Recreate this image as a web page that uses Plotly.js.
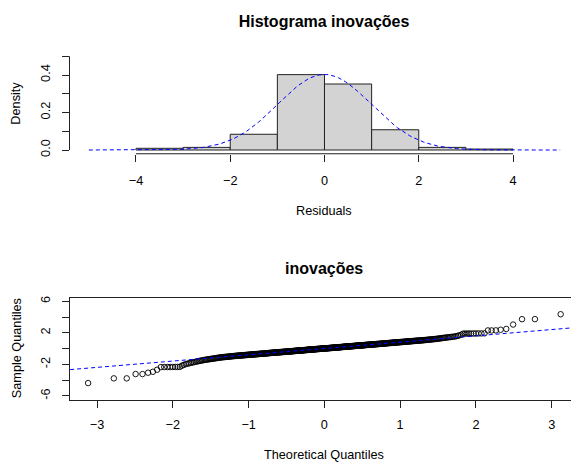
<!DOCTYPE html>
<html>
<head>
<meta charset="utf-8">
<script src="https://cdn.plot.ly/plotly-3.0.1.min.js"></script>
<style>html,body{margin:0;padding:0;background:#fff;}#chart{width:571px;height:462px;}</style>
</head>
<body>
<div id="chart"></div>
<script>
// ---------- Histogram data (top panel) ----------
const histBreaks = [-4, -3, -2, -1, 0, 1, 2, 3, 4];
const histDensity = [0.009, 0.014, 0.084, 0.402, 0.352, 0.108, 0.014, 0.005];
// Normal density overlay parameters
const curveMean = 0;
const curveSd = 0.99;
const curveFrom = -5, curveTo = 5;
const histXTicks = [-4, -2, 0, 2, 4];
const histYTicks = [0, 0.1, 0.2, 0.3, 0.4, 0.5];
const histYTickText = ["0.0", "", "0.2", "", "0.4", ""];

// ---------- QQ plot data (bottom panel): sample quantiles (sorted residuals) ----------
const qqSample = [
-4.37,-3.77,-3.77,-3.22,-3.22,-3.05,-2.93,-2.67,-2.34,-2.33,
-2.33,-2.33,-2.32,-2.32,-2.31,-2.31,-2.16,-2.05,-1.96,-1.90,
-1.85,-1.79,-1.75,-1.71,-1.66,-1.62,-1.58,-1.55,-1.51,-1.48,
-1.45,-1.42,-1.40,-1.37,-1.35,-1.33,-1.31,-1.29,-1.27,-1.25,
-1.23,-1.21,-1.19,-1.17,-1.15,-1.14,-1.12,-1.11,-1.09,-1.08,
-1.07,-1.06,-1.05,-1.04,-1.03,-1.02,-1.01,-1.00,-0.99,-0.97,
-0.96,-0.95,-0.95,-0.94,-0.93,-0.92,-0.91,-0.91,-0.90,-0.89,
-0.88,-0.88,-0.87,-0.86,-0.86,-0.85,-0.84,-0.84,-0.83,-0.82,
-0.82,-0.81,-0.80,-0.80,-0.79,-0.79,-0.78,-0.77,-0.77,-0.76,
-0.76,-0.75,-0.75,-0.74,-0.73,-0.73,-0.72,-0.72,-0.71,-0.70,
-0.70,-0.69,-0.69,-0.68,-0.68,-0.67,-0.67,-0.66,-0.66,-0.65,
-0.65,-0.64,-0.64,-0.63,-0.63,-0.62,-0.62,-0.61,-0.61,-0.60,
-0.59,-0.59,-0.58,-0.58,-0.57,-0.57,-0.56,-0.56,-0.55,-0.55,
-0.54,-0.54,-0.53,-0.53,-0.53,-0.52,-0.52,-0.51,-0.51,-0.50,
-0.50,-0.49,-0.49,-0.48,-0.48,-0.47,-0.47,-0.47,-0.46,-0.46,
-0.45,-0.45,-0.44,-0.44,-0.44,-0.43,-0.43,-0.42,-0.42,-0.42,
-0.41,-0.41,-0.40,-0.40,-0.40,-0.39,-0.39,-0.38,-0.38,-0.37,
-0.37,-0.37,-0.36,-0.36,-0.35,-0.35,-0.35,-0.34,-0.34,-0.33,
-0.33,-0.33,-0.32,-0.32,-0.31,-0.31,-0.31,-0.30,-0.30,-0.29,
-0.29,-0.28,-0.28,-0.28,-0.27,-0.27,-0.26,-0.26,-0.26,-0.25,
-0.25,-0.24,-0.24,-0.24,-0.23,-0.23,-0.22,-0.22,-0.22,-0.21,
-0.21,-0.21,-0.20,-0.20,-0.19,-0.19,-0.19,-0.18,-0.18,-0.18,
-0.17,-0.17,-0.16,-0.16,-0.16,-0.15,-0.15,-0.14,-0.14,-0.14,
-0.13,-0.13,-0.12,-0.12,-0.12,-0.11,-0.11,-0.11,-0.10,-0.10,
-0.10,-0.09,-0.09,-0.08,-0.08,-0.08,-0.07,-0.07,-0.06,-0.06,
-0.06,-0.05,-0.05,-0.05,-0.04,-0.04,-0.03,-0.03,-0.03,-0.03,
-0.02,-0.02,-0.01,-0.01,-0.01,0.00,0.00,0.01,0.01,0.01,
0.02,0.02,0.02,0.03,0.03,
0.03,0.03,0.04,0.04,0.04,0.05,0.05,0.05,0.06,0.06,
0.07,0.07,0.07,0.08,0.08,0.09,0.09,0.09,0.09,0.10,
0.10,0.11,0.11,0.11,0.12,0.12,0.12,0.13,0.13,0.14,
0.14,0.14,0.15,0.15,0.16,0.16,0.16,0.17,0.17,0.17,
0.18,0.18,0.18,0.19,0.19,0.20,0.20,0.20,0.21,0.21,
0.22,0.22,0.22,0.23,0.23,0.24,0.24,0.24,0.25,0.25,
0.25,0.26,0.26,0.27,0.27,0.27,0.28,0.28,0.28,0.29,
0.29,0.30,0.30,0.30,0.31,0.31,0.32,0.32,0.32,0.33,
0.33,0.34,0.34,0.34,0.35,0.35,0.36,0.36,0.37,0.37,
0.37,0.38,0.38,0.39,0.39,0.39,0.40,0.40,0.41,0.41,
0.41,0.42,0.42,0.43,0.43,0.43,0.44,0.44,0.45,0.45,
0.46,0.46,0.46,0.47,0.47,0.48,0.48,0.48,0.49,0.49,
0.50,0.50,0.50,0.51,0.51,0.52,0.52,0.53,0.53,0.53,
0.54,0.54,0.55,0.55,0.56,0.56,0.57,0.57,0.58,0.58,
0.59,0.59,0.59,0.60,0.60,0.61,0.61,0.62,0.62,0.63,
0.63,0.64,0.64,0.65,0.65,0.66,0.67,0.67,0.68,0.68,
0.69,0.69,0.70,0.70,0.71,0.71,0.72,0.72,0.73,0.73,
0.74,0.74,0.75,0.75,0.76,0.76,0.77,0.78,0.78,0.79,
0.79,0.80,0.81,0.81,0.82,0.82,0.83,0.83,0.84,0.85,
0.85,0.86,0.86,0.87,0.88,0.88,0.89,0.90,0.90,0.91,
0.92,0.92,0.93,0.94,0.94,0.95,0.96,0.97,0.97,0.98,
0.99,1.00,1.01,1.01,1.02,1.03,1.03,1.04,1.05,1.06,
1.07,1.07,1.08,1.09,1.10,1.11,1.12,1.13,1.14,1.16,
1.17,1.18,1.19,1.21,1.22,1.23,1.25,1.26,1.28,1.30,
1.32,1.34,1.36,1.38,1.40,1.42,1.44,1.46,1.48,1.50,
1.52,1.55,1.59,1.64,1.70,1.78,1.91,1.92,1.92,1.93,
1.93,1.93,1.94,1.94,1.94,1.95,2.32,2.32,2.33,2.41,
2.51,3.07,3.75,3.76,4.38
];
const qqXTicks = [-3, -2, -1, 0, 1, 2, 3];
const qqYTicks = [-6, -4, -2, 0, 2, 4, 6];
const qqYTickText = ["-6", "", "-2", "", "2", "", "6"];

// ---------- statistics helpers (what qqnorm / qqline / curve(dnorm) compute) ----------
function qnorm(p) {
  const a=[-3.969683028665376e+01,2.209460984245205e+02,-2.759285104469687e+02,1.383577518672690e+02,-3.066479806614716e+01,2.506628277459239e+00];
  const b=[-5.447609879822406e+01,1.615858368580409e+02,-1.556989798598866e+02,6.680131188771972e+01,-1.328068155288572e+01];
  const c=[-7.784894002430293e-03,-3.223964580411365e-01,-2.400758277161838e+00,-2.549732539343734e+00,4.374664141464968e+00,2.938163982698783e+00];
  const d=[7.784695709041462e-03,3.224671290700398e-01,2.445134137142996e+00,3.754408661907416e+00];
  const pl=0.02425, ph=1-pl; let q, r;
  if (p < pl) { q=Math.sqrt(-2*Math.log(p)); return (((((c[0]*q+c[1])*q+c[2])*q+c[3])*q+c[4])*q+c[5])/((((d[0]*q+d[1])*q+d[2])*q+d[3])*q+1); }
  if (p > ph) { q=Math.sqrt(-2*Math.log(1-p)); return -(((((c[0]*q+c[1])*q+c[2])*q+c[3])*q+c[4])*q+c[5])/((((d[0]*q+d[1])*q+d[2])*q+d[3])*q+1); }
  q=p-0.5; r=q*q;
  return (((((a[0]*r+a[1])*r+a[2])*r+a[3])*r+a[4])*r+a[5])*q/(((((b[0]*r+b[1])*r+b[2])*r+b[3])*r+b[4])*r+1);
}
function quantile7(sorted, prob) {
  const h = (sorted.length - 1) * prob, lo = Math.floor(h);
  return sorted[lo] + (h - lo) * ((sorted[lo + 1] ?? sorted[lo]) - sorted[lo]);
}

const sortedSample = qqSample.slice().sort((x, y) => x - y);
const nS = sortedSample.length;
const theo = sortedSample.map((_, i) => qnorm((i + 1 - 0.5) / nS));
const q1 = quantile7(sortedSample, 0.25), q3 = quantile7(sortedSample, 0.75);
const slope = (q3 - q1) / (qnorm(0.75) - qnorm(0.25));
const intercept = q1 - slope * qnorm(0.25);
const lineX = [-4, 4];
const lineY = lineX.map(v => intercept + slope * v);

const histMid = histDensity.map((_, i) => (histBreaks[i] + histBreaks[i + 1]) / 2);
const histWidth = histDensity.map((_, i) => histBreaks[i + 1] - histBreaks[i]);
const curveX = [], curveY = [];
for (let k = 0; k <= 200; k++) {
  const v = curveFrom + (curveTo - curveFrom) * k / 200;
  curveX.push(v);
  curveY.push(Math.exp(-((v - curveMean) ** 2) / (2 * curveSd * curveSd)) / (curveSd * Math.sqrt(2 * Math.PI)));
}

// ---------- layout geometry (pixels) ----------
const W = 571, H = 462;
const px = v => v / W, py = v => 1 - v / H;
const left = 69.5;
const top1 = 52.5, bot1 = 153.75;
const top2 = 297.7, bot2 = 399.7;
const axisCol = '#222';
const FAM = 'Liberation Sans, Arial, sans-serif';
const tickFont = { family: FAM, size: 12.7, color: '#000' };
const titleFont = { family: FAM, size: 16, color: '#000' };

const traces = [
  { type: 'bar', x: histMid, y: histDensity, width: histWidth, xaxis: 'x', yaxis: 'y',
    marker: { color: '#D3D3D3', line: { color: '#222', width: 1 } }, hoverinfo: 'skip' },
  { type: 'scatter', mode: 'lines', x: curveX, y: curveY, xaxis: 'x', yaxis: 'y',
    line: { color: '#0000FF', width: 1, dash: '4px,3px' }, hoverinfo: 'skip' },
  { type: 'scatter', mode: 'markers', x: theo, y: sortedSample, xaxis: 'x2', yaxis: 'y2',
    marker: { symbol: 'circle-open', size: 5.5, color: '#000', line: { width: 0.9, color: '#000' } }, hoverinfo: 'skip' },
  { type: 'scatter', mode: 'lines', x: lineX, y: lineY, xaxis: 'x2', yaxis: 'y2',
    line: { color: '#0000FF', width: 1, dash: '4px,3px' }, hoverinfo: 'skip' }
];

const layout = {
  width: W, height: H,
  margin: { l: 0, r: 0, t: 0, b: 0 },
  paper_bgcolor: '#fff', plot_bgcolor: '#fff',
  showlegend: false,
  font: tickFont,
  title: { text: '<b>Histograma inovações</b>', xref: 'container', x: px(324), xanchor: 'center',
           yref: 'container', y: py(21), yanchor: 'middle', font: titleFont },
  bargap: 0,
  xaxis: { domain: [px(left), 1], range: [-5.41, 5.23], tickvals: histXTicks, ticks: 'outside', ticklen: 7,
           tickcolor: axisCol, showline: false, zeroline: false, showgrid: false, anchor: 'y',
           tickfont: tickFont, ticklabelstandoff: 8 },
  yaxis: { domain: [py(bot1), py(top1)], range: [-0.02, 0.52], tickvals: histYTicks, ticktext: histYTickText,
           tickangle: -90, ticks: 'outside', ticklen: 7, tickcolor: axisCol, showline: false, zeroline: false,
           showgrid: false, anchor: 'x', tickfont: tickFont, ticklabelstandoff: 6 },
  xaxis2: { domain: [px(left), 1], range: [-3.364, 3.255], tickvals: qqXTicks, ticks: 'outside', ticklen: 7,
            tickcolor: axisCol, showline: true, mirror: true, linecolor: axisCol, linewidth: 1,
            zeroline: false, showgrid: false, anchor: 'y2', tickfont: tickFont, ticklabelstandoff: 6 },
  yaxis2: { domain: [py(bot2), py(top2)], range: [-6.48, 6.48], tickvals: qqYTicks, ticktext: qqYTickText,
            tickangle: -90, ticks: 'outside', ticklen: 7, tickcolor: axisCol, showline: true, mirror: true,
            linecolor: axisCol, linewidth: 1, zeroline: false, showgrid: false, anchor: 'x2',
            tickfont: tickFont, ticklabelstandoff: 6 },
  shapes: [
    { type: 'line', xref: 'x', yref: 'paper', x0: histXTicks[0], x1: histXTicks[histXTicks.length - 1],
      y0: py(bot1), y1: py(bot1), line: { color: axisCol, width: 1 } },
    { type: 'line', xref: 'paper', yref: 'y', x0: px(left), x1: px(left),
      y0: histYTicks[0], y1: histYTicks[histYTicks.length - 1], line: { color: axisCol, width: 1 } }
  ],
  annotations: [
    { text: 'Density', xref: 'paper', yref: 'paper', x: px(16.5), y: py((top1 + bot1) / 2), textangle: -90,
      showarrow: false, xanchor: 'center', yanchor: 'middle', font: tickFont },
    { text: 'Residuals', xref: 'paper', yref: 'paper', x: px(324), y: py(211), showarrow: false,
      xanchor: 'center', yanchor: 'middle', font: tickFont },
    { text: '<b>inovações</b>', xref: 'paper', yref: 'paper', x: px(324), y: py(268), showarrow: false,
      xanchor: 'center', yanchor: 'middle', font: titleFont },
    { text: 'Sample Quantiles', xref: 'paper', yref: 'paper', x: px(16.5), y: py((top2 + bot2) / 2), textangle: -90,
      showarrow: false, xanchor: 'center', yanchor: 'middle', font: tickFont },
    { text: 'Theoretical Quantiles', xref: 'paper', yref: 'paper', x: px(324), y: py(455), showarrow: false,
      xanchor: 'center', yanchor: 'middle', font: tickFont }
  ]
};

Plotly.newPlot('chart', traces, layout, { staticPlot: true, displayModeBar: false });
</script>
</body>
</html>
